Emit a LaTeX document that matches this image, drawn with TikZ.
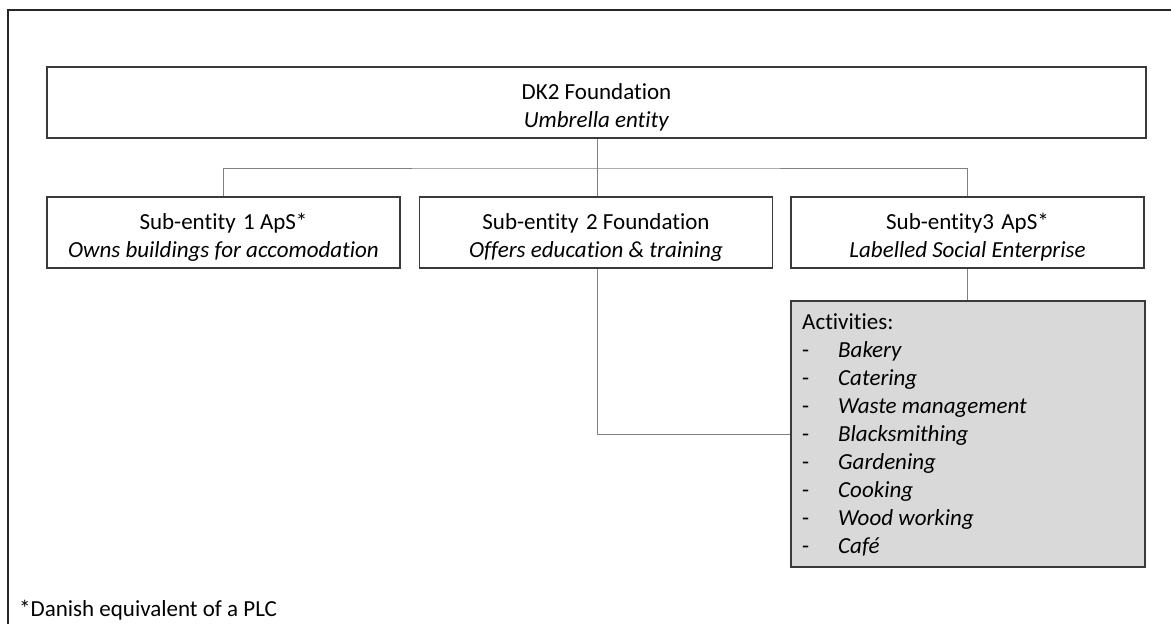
\documentclass[tikz,border=0pt]{standalone}
\usepackage{fontspec}
\setmainfont{Carlito}[Ligatures={NoCommon}]
\definecolor{boxline}{HTML}{3A3A3A}
\definecolor{connline}{HTML}{808080}
\definecolor{actfill}{HTML}{D9D9D9}
\newcommand{\firstline}{\rule{0pt}{25pt}}
\begin{document}
\begin{tikzpicture}[x=1pt,y=-1pt,
  entity/.style={draw=boxline, line width=1.3pt, rectangle, align=center, inner sep=0pt,
    minimum height=71pt, font=\fontsize{23}{28}\selectfont},
  conn/.style={draw=connline, line width=0.9pt},
  frame/.style={draw=black!85, line width=1.4pt}]
\useasboundingbox (0,0) rectangle (1171,624);
\draw[frame] (8,624) -- (8,10) -- (1171,10);

\node[entity, minimum width=1099pt] (dk2) at (596.5,102.5) {\firstline DK2 Foundation\\\textit{Umbrella entity}};
\node[entity, minimum width=353pt] (sub1) at (223.5,232.5) {\firstline Sub-entity\hspace{0.1em} 1 ApS*\\\textit{Owns buildings for accomodation}};
\node[entity, minimum width=353pt] (sub2) at (596,232.5) {\firstline Sub-entity\hspace{0.1em} 2 Foundation\\\textit{Offers education \& training}};
\node[entity, minimum width=353pt] (sub3) at (967.5,232.5) {\firstline Sub-entity3\hspace{0.1em} ApS*\\\textit{Labelled Social Enterprise}};
\node[entity, fill=actfill, minimum width=354pt, minimum height=266pt] (act) at (968,434) {};
\node[anchor=north west, inner sep=0pt, align=left, font=\fontsize{23}{28}\selectfont] (acttext) at (802,313)
 {Activities:\\
  \makebox[36pt][l]{-}\textit{Bakery}\\
  \makebox[36pt][l]{-}\textit{Catering}\\
  \makebox[36pt][l]{-}\textit{Waste management}\\
  \makebox[36pt][l]{-}\textit{Blacksmithing}\\
  \makebox[36pt][l]{-}\textit{Gardening}\\
  \makebox[36pt][l]{-}\textit{Cooking}\\
  \makebox[36pt][l]{-}\textit{Wood working}\\
  \makebox[36pt][l]{-}\textit{Café}};

\coordinate (hub) at (597,168);
\draw[conn] (dk2.south -| hub) -- (sub2.north -| hub);
\draw[conn] (sub1.north) |- (hub) -| (sub3.north);
\draw[conn] (sub2.south -| hub) |- (act.west);
\draw[conn] (sub3.south) -- (sub3.south |- act.north);

\node[anchor=base west, inner sep=0pt, font=\fontsize{23}{28}\selectfont] (note) at (19,616) {*Danish equivalent of a PLC};
\end{tikzpicture}
\end{document}
